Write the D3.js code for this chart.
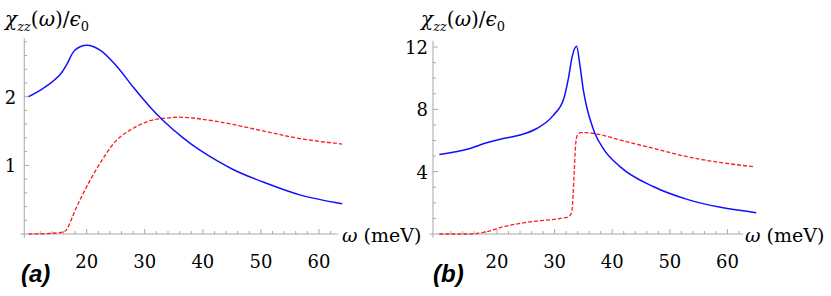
<!DOCTYPE html>
<html>
<head>
<meta charset="utf-8">
<script src="https://cdn.jsdelivr.net/npm/d3@7"></script>
<style>
  body { margin: 0; background: #fff; }
</style>
</head>
<body>
<script>
// ---- panel (a) ----
const aXTicks = [20, 30, 40, 50, 60];
const aYTicks = [1, 2];
const aBlueW = [10, 12.5, 15.4, 16.5, 18, 20, 22.3, 25.2, 28, 30.9, 33.2, 36.6, 39.5, 45.2, 50.9, 56.7, 64];
const aBlueV = [2.0, 2.12, 2.32, 2.46, 2.68, 2.75, 2.68, 2.44, 2.14, 1.85, 1.65, 1.40, 1.22, 0.94, 0.74, 0.57, 0.44];
const aRedW = [10, 14, 16, 16.5, 18.3, 20, 22.3, 25.2, 28, 30.9, 33.8, 36.6, 42.4, 51, 56.7, 64];
const aRedV = [0, 0.01, 0.03, 0.06, 0.40, 0.69, 1.03, 1.37, 1.54, 1.65, 1.69, 1.70, 1.64, 1.49, 1.39, 1.31];

// ---- panel (b) ----
const bXTicks = [20, 30, 40, 50, 60];
const bYTicks = [4, 8, 12];
const bBlueW = [10, 15.3, 18.2, 21.1, 24, 26.9, 29.8, 31.6, 32.4, 33.0, 33.8, 34.4, 35.0, 35.6, 36.2, 37.0, 38.5, 41.4, 47.2, 53, 58.8, 65];
const bBlueV = [5.1, 5.49, 5.85, 6.13, 6.35, 6.77, 7.63, 8.7, 10.0, 11.3, 12.05, 10.8, 9.2, 8.1, 7.3, 6.45, 5.45, 4.31, 3.03, 2.22, 1.71, 1.37];
const bRedW = [10, 15.3, 18.2, 21.1, 24, 26.9, 31, 32.5, 33.0, 33.2, 33.4, 33.6, 33.9, 34.5, 35.5, 37.4, 41.4, 47.2, 53, 64.6];
const bRedV = [0, 0, 0.15, 0.47, 0.68, 0.83, 1.0, 1.12, 1.5, 2.5, 4.0, 5.5, 6.3, 6.5, 6.5, 6.41, 6.03, 5.49, 4.96, 4.31];

const serif = "DejaVu Serif, serif";
const width = 831, height = 296;
const svg = d3.select("body").append("svg")
  .attr("width", width)
  .attr("height", height);

function drawPanel(p) {
  const x = d3.scaleLinear().domain([20, 60]).range(p.xr);
  const y = d3.scaleLinear().domain([0, p.yTop]).range([234, p.yTopPx]);
  const g = svg.append("g");
  const axisColor = "#a8a8a8";

  // axis lines
  g.append("line")
    .attr("x1", x(p.xLo)).attr("x2", x(p.xHi))
    .attr("y1", y(0)).attr("y2", y(0))
    .attr("stroke", axisColor);
  g.append("line")
    .attr("x1", x(p.yAxisAt)).attr("x2", x(p.yAxisAt))
    .attr("y1", y(p.yLo)).attr("y2", y(p.yHi))
    .attr("stroke", axisColor);

  // x ticks (pointing up)
  const xMinor = d3.range(10, p.xHi, 2).filter(v => v % 10 !== 0);
  g.selectAll(".xmin").data(xMinor).enter().append("line")
    .attr("x1", d => x(d)).attr("x2", d => x(d))
    .attr("y1", y(0)).attr("y2", y(0) - 3)
    .attr("stroke", axisColor);
  g.selectAll(".xmaj").data(p.xTicks).enter().append("line")
    .attr("x1", d => x(d)).attr("x2", d => x(d))
    .attr("y1", y(0)).attr("y2", y(0) - 5)
    .attr("stroke", axisColor);
  g.selectAll(".xlab").data(p.xTicks).enter().append("text")
    .attr("x", d => x(d)).attr("y", 268)
    .attr("text-anchor", "middle")
    .attr("font-family", serif)
    .attr("font-size", 18)
    .text(d => d);

  // y ticks (pointing right)
  const yMinor = d3.range(p.yMinorStep, p.yHi, p.yMinorStep)
    .filter(v => Math.abs(v / p.yMajorStep - Math.round(v / p.yMajorStep)) > 1e-6);
  g.selectAll(".ymin").data(yMinor).enter().append("line")
    .attr("x1", x(p.yAxisAt)).attr("x2", x(p.yAxisAt) + 3)
    .attr("y1", d => y(d)).attr("y2", d => y(d))
    .attr("stroke", axisColor);
  g.selectAll(".ymaj").data(p.yTicks).enter().append("line")
    .attr("x1", x(p.yAxisAt)).attr("x2", x(p.yAxisAt) + 5)
    .attr("y1", d => y(d)).attr("y2", d => y(d))
    .attr("stroke", axisColor);
  g.selectAll(".ylab").data(p.yTicks).enter().append("text")
    .attr("x", x(p.yAxisAt) - p.yLabPad).attr("y", d => y(d) + 7)
    .attr("text-anchor", "end")
    .attr("font-family", serif)
    .attr("font-size", 18)
    .text(d => d);

  // curves
  const line = d3.line()
    .x(d => x(d[0])).y(d => y(d[1]))
    .curve(p.curve);
  g.append("path")
    .datum(d3.zip(p.redW, p.redV))
    .attr("d", line)
    .attr("fill", "none")
    .attr("stroke", "#ff1a1a")
    .attr("stroke-width", 1.3)
    .attr("stroke-dasharray", "4,2");
  g.append("path")
    .datum(d3.zip(p.blueW, p.blueV))
    .attr("d", line)
    .attr("fill", "none")
    .attr("stroke", "#1010ff")
    .attr("stroke-width", 1.5);

  // axis title
  const t = g.append("text")
    .attr("x", p.titleX).attr("y", 26)
    .attr("font-family", serif)
    .attr("font-size", 20);
  t.append("tspan").attr("font-style", "italic").text("χ");
  t.append("tspan").attr("font-style", "italic").attr("font-size", 13).attr("dy", 5).text("zz");
  t.append("tspan").attr("dy", -5).text("(");
  t.append("tspan").attr("font-style", "italic").text("ω");
  t.append("tspan").text(")/");
  t.append("tspan").attr("font-style", "italic").text("ϵ");
  t.append("tspan").attr("font-size", 13).attr("dy", 5).text("0");

  const xl = g.append("text")
    .attr("x", p.xLabX).attr("y", 242)
    .attr("font-family", serif)
    .attr("font-size", 19);
  xl.append("tspan").attr("font-style", "italic").text("ω");
  xl.append("tspan").text(" (meV)");

  g.append("text")
    .attr("x", p.tagX).attr("y", 282)
    .attr("font-size", 24)
    .attr("font-weight", "bold")
    .attr("font-style", "italic")
    .attr("font-family", "Liberation Sans, Arial, sans-serif")
    .text(p.tag);
}

drawPanel({
  xr: [86.7, 319], yTop: 2, yTopPx: 96.7,
  xLo: 8.6, xHi: 63.3, yAxisAt: 9.25, yLo: -0.06, yHi: 2.85,
  xTicks: aXTicks, yTicks: aYTicks, yMajorStep: 1, yMinorStep: 0.2, yLabPad: 8,
  blueW: aBlueW, blueV: aBlueV, redW: aRedW, redV: aRedV,
  curve: d3.curveCatmullRom.alpha(0.5),
  titleX: 5, xLabX: 342, tagX: 21, tag: "(a)"
});

drawPanel({
  xr: [497, 727.5], yTop: 12, yTopPx: 47,
  xLo: 8.3, xHi: 62.7, yAxisAt: 8.89, yLo: -0.25, yHi: 12.4,
  xTicks: bXTicks, yTicks: bYTicks, yMajorStep: 4, yMinorStep: 1, yLabPad: 5,
  blueW: bBlueW, blueV: bBlueV, redW: bRedW, redV: bRedV,
  curve: d3.curveMonotoneX,
  titleX: 421, xLabX: 745, tagX: 433, tag: "(b)"
});
</script>
</body>
</html>
